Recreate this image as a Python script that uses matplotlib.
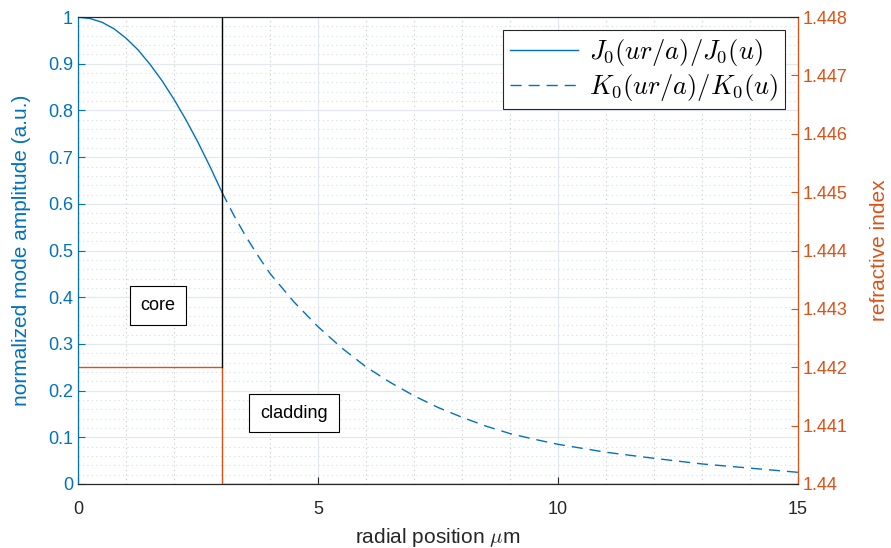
import numpy as np
import matplotlib.pyplot as plt
from matplotlib.ticker import MultipleLocator, FixedLocator

plt.rcParams['font.family'] = ['Liberation Sans', 'DejaVu Sans']
plt.rcParams['mathtext.fontset'] = 'cm'

# values
r_core = [0, 0.25, 0.5, 0.75, 1.0, 1.25, 1.5, 1.75, 2.0, 2.25, 2.5, 2.75, 3.0]
amp_core = [1.0, 0.997, 0.989, 0.975, 0.955, 0.930, 0.899, 0.864, 0.824,
            0.780, 0.732, 0.680, 0.625]
r_clad = [3.0, 3.25, 3.5, 3.75, 4.0, 4.5, 5.0, 5.5, 6.0, 6.5, 7.0, 7.5, 8.0, 8.5,
          9.0, 9.5, 10.0, 11.0, 12.0, 13.0, 14.0, 15.0]
amp_clad = [0.625, 0.575, 0.530, 0.489, 0.451, 0.390, 0.337, 0.291, 0.251, 0.218,
            0.189, 0.164, 0.143, 0.124, 0.108, 0.096, 0.085, 0.068, 0.055, 0.043,
            0.034, 0.025]
r_index = [0, 3, 3, 15]
n_index = [1.442, 1.442, 1.440, 1.440]
r_iface = [3, 3]
n_iface = [1.442, 1.448]
amp_ticks = [0, 0.1, 0.2, 0.3, 0.4, 0.5, 0.6, 0.7, 0.8, 0.9, 1.0]
amp_labels = ['0', '0.1', '0.2', '0.3', '0.4', '0.5', '0.6', '0.7', '0.8', '0.9', '1']
n_ticks = [1.440, 1.441, 1.442, 1.443, 1.444, 1.445, 1.446, 1.447, 1.448]
n_labels = ['1.44', '1.441', '1.442', '1.443', '1.444', '1.445', '1.446', '1.447', '1.448']

blue = '#0072BD'
orange = '#D95319'
dark = '#262626'

fig = plt.figure(figsize=(8.91, 5.48), dpi=100)
ax = fig.add_axes([0.0875, 0.1168, 0.808, 0.852])
ax2 = ax.twinx()

l1, = ax.plot(r_core, amp_core, color=blue, lw=1.0, label=r'$J_0(ur/a)/J_0(u)$')
l2, = ax.plot(r_clad, amp_clad, color=blue, lw=1.0, ls=(0, (8, 5)),
              label=r'$K_0(ur/a)/K_0(u)$')
ax2.plot(r_index, n_index, color=orange, lw=1.0)
ax2.plot(r_iface, n_iface, color='black', lw=1.0)

ax.set_xlim(0, 15)
ax.set_ylim(0, 1)
ax2.set_ylim(1.44, 1.448)

ax.xaxis.set_major_locator(MultipleLocator(5))
ax.xaxis.set_minor_locator(MultipleLocator(1))
ax.yaxis.set_major_locator(FixedLocator(amp_ticks))
ax.yaxis.set_minor_locator(MultipleLocator(0.02))
ax.set_yticklabels(amp_labels)
ax2.yaxis.set_major_locator(FixedLocator(n_ticks))
ax2.set_yticklabels(n_labels)

ax.grid(True, which='major', color='#e3e8ee', lw=0.9)
ax.grid(True, which='minor', axis='x', color='#c8c8c8', lw=0.8, ls=(0, (1, 3)))
ax.grid(True, which='minor', axis='y', color='#cfe0ee', lw=0.8, ls=(0, (1, 3)))
ax.set_axisbelow(True)

ax.tick_params(which='both', direction='in', labelsize=13)
ax.tick_params(which='minor', length=0)
ax.tick_params(axis='x', which='major', length=5, colors=dark, pad=12)
ax.tick_params(axis='y', which='major', length=5, colors=blue)
ax2.tick_params(axis='y', direction='in', length=5, colors=orange, labelsize=13)

for s in ['top', 'bottom']:
    ax2.spines[s].set_color(dark)
ax2.spines['left'].set_color(blue)
ax2.spines['right'].set_color(orange)

ax.set_xlabel(r'radial position $\mu$m', fontsize=15, color=dark, labelpad=6)
ax.set_ylabel('normalized mode amplitude (a.u.)', fontsize=15, color=blue,
              labelpad=12)
ax2.set_ylabel('refractive index', fontsize=15, color=orange, labelpad=16)

box = dict(boxstyle='square,pad=0.6', fc='white', ec='black', lw=0.8)
ax.text(1.67, 0.383, 'core', fontsize=13, ha='center', va='center', bbox=box)
ax.text(4.5, 0.152, 'cladding', fontsize=13, ha='center', va='center', bbox=box)

leg = ax2.legend([l1, l2], [l1.get_label(), l2.get_label()], loc='upper right',
                 fontsize=19, frameon=True, fancybox=False, edgecolor=dark,
                 framealpha=1, borderaxespad=0.5, handlelength=2.6,
                 handletextpad=0.4, borderpad=0.25, labelspacing=0.15)
leg.get_frame().set_linewidth(0.8)

fig.savefig('out.png', dpi=100)
